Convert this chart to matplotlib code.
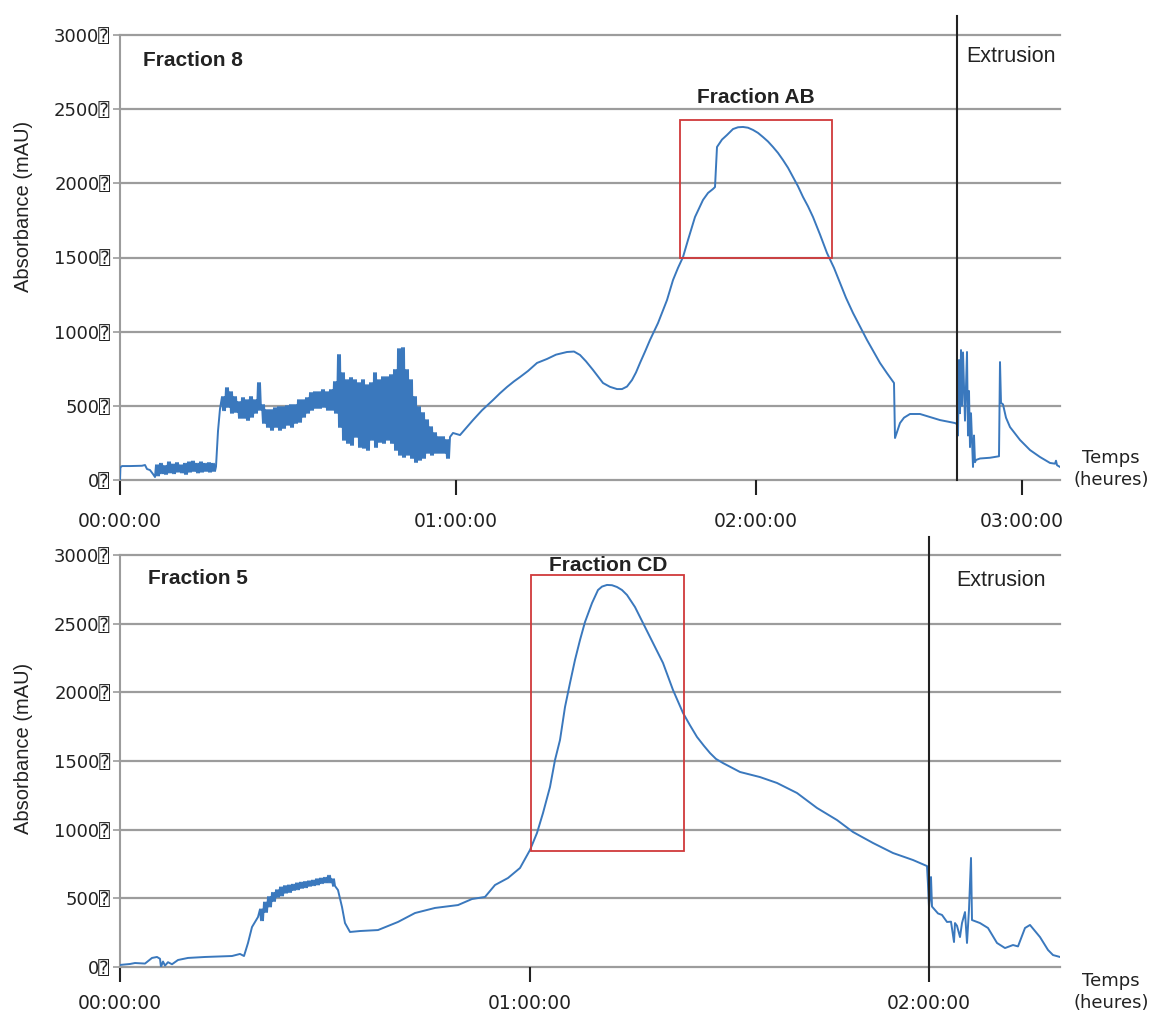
import matplotlib
matplotlib.use("Agg")
import matplotlib.pyplot as plt
from matplotlib.patches import Rectangle

# x in elution units (mL-like), y in mAU
# ---- top run (Fraction 8) ----
top_start_x = [0, 0.1, 0.5, 2.5, 5.5, 6.25, 6.75, 7.5, 8.25, 8.75]
top_start_y = [0, 85, 94, 94, 96, 101, 74, 67, 40, 20]

# low-amplitude noise, x from 9 step 1
top_n1_hi = [100, 110, 95, 120, 105, 115, 100, 110, 120, 125, 110, 120, 110, 115, 110]
top_n1_lo = [30, 45, 40, 50, 45, 55, 50, 40, 55, 60, 50, 55, 60, 55, 60]

top_jump_x = [24, 24.5, 25]
top_jump_y = [90, 330, 480]

# heavy noise, x from 25.5 step 1
top_n2_hi = [560, 620, 593, 560, 526, 553, 539, 560, 539, 654, 506, 472, 472, 485,
             492, 492, 499, 506, 506, 539, 539, 553, 587, 593, 593, 607, 593, 607,
             661, 843, 721, 674, 688, 674, 654, 674, 640, 654, 721, 674, 694, 694,
             708, 742, 883, 890, 742, 674, 560, 492, 452, 404, 357, 317, 290, 290, 270]
top_n2_lo = [470, 492, 452, 458, 418, 418, 404, 425, 452, 472, 384, 357, 337, 357,
             337, 350, 371, 357, 384, 391, 425, 452, 472, 485, 485, 492, 472, 472,
             452, 357, 270, 249, 236, 290, 222, 216, 202, 270, 222, 256, 249, 270,
             249, 202, 169, 155, 169, 148, 121, 135, 148, 182, 169, 182, 182, 182, 148]

top_end_x = [82.5, 83.25, 85, 86.5, 88.25, 90.5, 93.25, 95, 96.75, 98.5, 100, 102,
             104.25, 106.75, 109, 111.75, 113.5, 115, 116.5, 118.25, 120.75, 122.5,
             124.25, 125.5, 126.75, 128, 129, 130, 131.25, 132.5, 134.5, 136.75,
             138.25, 139.5, 140.75, 142, 143.75, 145.75, 147, 148.25, 148.75, 149.25,
             150.5, 151.75, 153.25, 154.5, 155.75, 157, 158.25, 159.5, 160.75, 162,
             163.25, 164.5, 165.75, 167, 168.25, 169.5, 170.75, 172, 173.25, 175,
             176.75, 178.5, 180, 181.5, 183.25, 185, 186.75, 188.5, 190, 191.75,
             193.5, 193.75, 195, 196, 197.5, 200, 205, 208.75,
             209.25, 209.5, 209.75, 210, 210.25, 210.5, 210.75, 211.25, 211.75, 212,
             212.25, 212.5, 212.75, 213.25, 213.5, 213.75, 214, 215, 217.5, 219.75,
             220, 220.25, 220.75, 221.5, 222.5, 225, 227.5, 230, 232.5, 233.75, 234,
             234.25, 235]
top_end_y = [290, 317, 303, 350, 404, 470, 539, 585, 627, 665, 694, 735,
             789, 816, 845, 863, 866, 843, 800, 742, 654, 628,
             613, 613, 630, 674, 725, 789, 865, 944, 1058, 1213,
             1348, 1430, 1503, 1618, 1773, 1888, 1935, 1962, 1975, 2245,
             2295, 2326, 2366, 2378, 2380, 2375, 2360, 2340, 2312, 2282,
             2245, 2205, 2157, 2105, 2043, 1980, 1908, 1845, 1773, 1655,
             1530, 1430, 1328, 1228, 1126, 1035, 944, 860, 789, 720,
             654, 283, 384, 420, 445, 445, 404, 384,
             377, 300, 809, 450, 876, 500, 860, 400, 863, 300,
             600, 222, 450, 88, 300, 120, 135, 145, 150, 160,
             795, 520, 510, 420, 357, 270, 202, 155, 115, 110, 130,
             100, 88]

# ---- bottom run (Fraction 5) ----
bot_start_x = [0, 2.5, 3.75, 6.25, 8, 9.25, 10, 10.25, 10.75, 11.25, 12, 13, 14.5,
               17, 21.25, 28, 30, 31, 32, 33, 34.5]
bot_start_y = [15, 22, 29, 25, 66, 73, 60, 0, 40, 10, 35, 20, 51,
               66, 73, 80, 95, 80, 175, 291, 364]

# small noise, x from 35 step 1
bot_n_hi = [420, 470, 510, 540, 560, 580, 590, 595, 600, 610, 615, 620, 625, 630,
            640, 645, 650, 665, 640]
bot_n_lo = [340, 400, 440, 480, 510, 520, 540, 545, 560, 565, 575, 580, 590, 595,
            600, 610, 615, 615, 590]

bot_end_x = [54.5, 55.5, 56.25, 57.5, 60, 64.5, 69.5, 73.75, 78.75, 84.5, 88, 91.25,
             93.75, 97, 100, 102.5, 104.25, 105.75, 107.5, 108.75, 110, 111.25,
             112.5, 113.75, 115, 116.25, 118, 119.5, 120.5, 121.75, 123, 124.25,
             125.5, 126.75, 128.75, 130.75, 133.25, 135.75, 138.25, 140.75, 142.5,
             144.25, 146, 147.5, 149, 150.75, 155, 160, 164.25, 169.25, 174.25,
             179.25, 183.25, 188.25, 193.25, 198.25, 201.75,
             202, 202.25, 202.5, 202.75, 203, 203.75, 204.5, 205.5, 206.75, 207.75,
             208.5, 208.75, 209.25, 210, 210.5, 211.25, 211.75, 212.25, 212.75, 213,
             215, 217, 219.25, 221.25, 223.25, 224.5, 226.25, 227.5, 230, 232,
             233.25, 235]
bot_end_y = [560, 437, 320, 255, 262, 269, 328, 393, 430, 451, 495, 510,
             597, 648, 721, 852, 976, 1121, 1311, 1507, 1653, 1893,
             2068, 2236, 2381, 2512, 2650, 2745, 2770, 2782, 2780, 2767,
             2745, 2709, 2621, 2505, 2359, 2214, 2017, 1850, 1760,
             1675, 1610, 1558, 1515, 1485, 1420, 1383, 1340, 1267, 1158,
             1070, 983, 903, 830, 779, 735,
             600, 437, 500, 655, 440, 415, 390, 379, 328, 330,
             182, 320, 300, 218, 320, 400, 175, 420, 794, 342,
             320, 284, 175, 138, 160, 150, 284, 306, 218, 124,
             87, 73]

top_ticks = [0, 84, 159, 225.5]
bot_ticks = [0, 102.5, 202.25]
top_labels = ["00:00:00", "01:00:00", "02:00:00", "03:00:00"]
bot_labels = ["00:00:00", "01:00:00", "02:00:00"]
y_ticks = [0, 500, 1000, 1500, 2000, 2500, 3000]
y_labels = [str(v) + "\u2370" for v in y_ticks]

top_extrusion = 209.25
bot_extrusion = 202.25
top_box = (140, 1500, 38, 927)     # x, y, w, h
bot_box = (102.75, 845, 38.25, 2009)


def zigzag(x0, step, hi, lo):
    # trace alternates between the read upper and lower envelope
    xs, ys = [], []
    for i, (h, l) in enumerate(zip(hi, lo)):
        for k, v in enumerate([h, l, h, l]):
            xs.append(x0 + i * step + k * step / 4)
            ys.append(v)
    return xs, ys


n1x, n1y = zigzag(9, 1, top_n1_hi, top_n1_lo)
n2x, n2y = zigzag(25.5, 1, top_n2_hi, top_n2_lo)
top_x = top_start_x + n1x + top_jump_x + n2x + top_end_x
top_y = top_start_y + n1y + top_jump_y + n2y + top_end_y

bnx, bny = zigzag(35, 1, bot_n_hi, bot_n_lo)
bot_x = bot_start_x + bnx + bot_end_x
bot_y = bot_start_y + bny + bot_end_y

BLUE = "#3a78bd"
GRID = "#9c9c9c"
INK = "#222222"
TXT = "Liberation Sans"
TICKFONT = ["DejaVu Sans", "DejaVu Sans Mono"]

fig = plt.figure(figsize=(11.52, 10.14), dpi=100)
ax1 = fig.add_axes([120 / 1152, 1 - 480 / 1014, 940 / 1152, 445 / 1014])
ax2 = fig.add_axes([120 / 1152, 1 - 967 / 1014, 940 / 1152, 412 / 1014])


def style(ax, ticks, labels, ext, label_y, xpad):
    ax.set_xlim(0, 235)
    ax.set_ylim(0, 3000)
    for s in ["top", "right", "bottom"]:
        ax.spines[s].set_visible(False)
    ax.spines["left"].set_color(GRID)
    ax.spines["left"].set_linewidth(1.5)
    for v in y_ticks:
        ax.axhline(v, color=GRID, lw=1.6, zorder=1, clip_on=False)
    ax.set_yticks(y_ticks)
    ax.set_yticklabels(y_labels, fontfamily=TICKFONT, fontsize=13, color=INK)
    ax.tick_params(axis="y", length=5, width=1.2, color=GRID, pad=2)
    ax.set_xticks(ticks)
    ax.set_xticklabels(labels, fontfamily=TICKFONT, fontsize=13.5, color=INK)
    ax.tick_params(axis="x", length=11, width=1.5, color=INK, pad=xpad)
    ax.set_ylabel("Absorbance (mAU)", fontfamily=TXT, fontsize=14.5, color=INK)
    ax.yaxis.set_label_coords(-0.093, label_y)
    ax.axvline(ext, ymin=0, ymax=1.043, color=INK, lw=1.5, clip_on=False, zorder=4)


style(ax1, top_ticks, top_labels, top_extrusion, 0.615, 12)
style(ax2, bot_ticks, bot_labels, bot_extrusion, 0.53, 8.5)

ax1.plot(top_x, top_y, color=BLUE, lw=1.4, zorder=3)
ax2.plot(bot_x, bot_y, color=BLUE, lw=1.4, zorder=3)

ax1.add_patch(Rectangle(top_box[:2], top_box[2], top_box[3], fill=False,
                        edgecolor="#d0393a", lw=1.3, zorder=5))
ax2.add_patch(Rectangle(bot_box[:2], bot_box[2], bot_box[3], fill=False,
                        edgecolor="#d0393a", lw=1.3, zorder=5))

ax1.text(5.75, 2831, "Fraction 8", fontfamily=TXT, fontweight="bold", fontsize=15,
         va="center", ha="left", color=INK)
ax1.text(159, 2582, "Fraction AB", fontfamily=TXT, fontweight="bold", fontsize=15,
         va="center", ha="center", color=INK)
ax1.text(211.5, 2852, "Extrusion", fontfamily=TXT, fontsize=15.5,
         va="center", ha="left", color=INK)
ax2.text(7, 2832, "Fraction 5", fontfamily=TXT, fontweight="bold", fontsize=15,
         va="center", ha="left", color=INK)
ax2.text(122, 2927, "Fraction CD", fontfamily=TXT, fontweight="bold", fontsize=15,
         va="center", ha="center", color=INK)
ax2.text(209, 2811, "Extrusion", fontfamily=TXT, fontsize=15.5,
         va="center", ha="left", color=INK)

fig.text(1111 / 1152, 1 - 469 / 1014, "Temps\n(heures)", fontfamily=TICKFONT,
         fontsize=13, ha="center", va="center", linespacing=1.35, color=INK)
fig.text(1111 / 1152, 1 - 992 / 1014, "Temps\n(heures)", fontfamily=TICKFONT,
         fontsize=13, ha="center", va="center", linespacing=1.35, color=INK)

fig.savefig("out.png", dpi=100)
